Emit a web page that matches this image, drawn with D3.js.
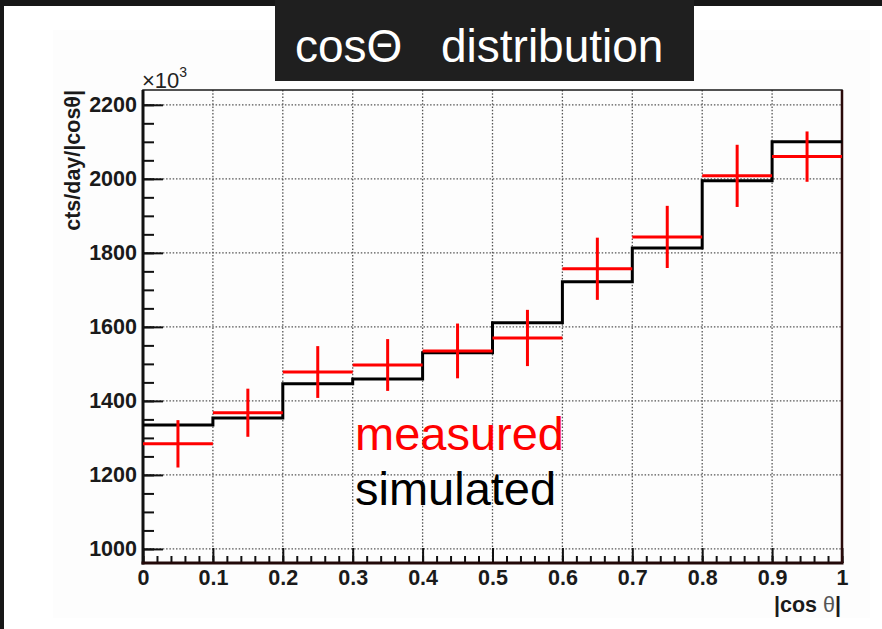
<!DOCTYPE html>
<html>
<head>
<meta charset="utf-8">
<script src="https://cdn.jsdelivr.net/npm/d3@7"></script>
<style>
  body { margin: 0; background: #181818; }
  svg { display: block; }
</style>
</head>
<body>
<div id="chart"></div>
<script>
// bins of |cos theta| (lower and upper edges)
var binLow  = [0, 0.1, 0.2, 0.3, 0.4, 0.5, 0.6, 0.7, 0.8, 0.9];
var binHigh = [0.1, 0.2, 0.3, 0.4, 0.5, 0.6, 0.7, 0.8, 0.9, 1.0];

// counts per day per |cos theta| (x10^3)
var simulated   = [1335, 1354, 1446, 1459, 1530, 1611, 1722, 1813, 1995, 2100];
var measured    = [1284, 1368, 1478, 1497, 1535, 1570, 1757, 1843, 2008, 2060];
var measuredErr = [64, 65, 70, 70, 74, 76, 84, 84, 84, 68];

// axis ticks
var xTicks = [0, 0.1, 0.2, 0.3, 0.4, 0.5, 0.6, 0.7, 0.8, 0.9, 1];
var xTickLabels = ["0", "0.1", "0.2", "0.3", "0.4", "0.5", "0.6", "0.7", "0.8", "0.9", "1"];
var yTicks = [1000, 1200, 1400, 1600, 1800, 2000, 2200];

var svgWidth = 882;
var svgHeight = 629;

var margin = { top: 90, right: 40, bottom: 66, left: 143 };
var width = 842 - margin.left;
var height = 563 - margin.top;

var svg = d3.select("#chart")
  .append("svg")
  .attr("width", svgWidth)
  .attr("height", svgHeight);

// dark slide background + white panel
svg.append("rect")
  .attr("width", svgWidth)
  .attr("height", svgHeight)
  .attr("fill", "#171717");

svg.append("rect")
  .attr("x", 4)
  .attr("y", 6)
  .attr("width", svgWidth - 4)
  .attr("height", svgHeight - 6)
  .attr("fill", "#ffffff");

svg.append("rect")
  .attr("x", 53)
  .attr("y", 30)
  .attr("width", 817)
  .attr("height", 588)
  .attr("fill", "#fdfdfd");

// title box
svg.append("rect")
  .attr("x", 275)
  .attr("y", 0)
  .attr("width", 419)
  .attr("height", 81)
  .attr("fill", "#1f1f1f");

svg.append("text")
  .attr("x", 295)
  .attr("y", 62)
  .attr("fill", "#ffffff")
  .style("font-family", "'Liberation Sans', Arial, sans-serif")
  .style("font-size", "46px")
  .text("cos\u0398");

svg.append("text")
  .attr("x", 441)
  .attr("y", 62)
  .attr("fill", "#ffffff")
  .style("font-family", "'Liberation Sans', Arial, sans-serif")
  .style("font-size", "46px")
  .text("distribution");

var chartGroup = svg.append("g")
  .attr("transform", `translate(${margin.left}, ${margin.top})`);

var xScale = d3.scaleLinear().domain([0, 1]).range([0, width]);
var yScale = d3.scaleLinear().domain([962, 2240]).range([height, 0]);

// dotted grid
chartGroup.append("g")
  .selectAll("line")
  .data(yTicks)
  .enter()
  .append("line")
  .attr("x1", 0)
  .attr("x2", width)
  .attr("y1", d => yScale(d))
  .attr("y2", d => yScale(d))
  .attr("stroke", "#555")
  .attr("stroke-width", 1.3)
  .attr("stroke-dasharray", "1.5,1.8");

chartGroup.append("g")
  .selectAll("line")
  .data(xTicks.slice(1, -1))
  .enter()
  .append("line")
  .attr("x1", d => xScale(d))
  .attr("x2", d => xScale(d))
  .attr("y1", 0)
  .attr("y2", height)
  .attr("stroke", "#555")
  .attr("stroke-width", 1.3)
  .attr("stroke-dasharray", "1.5,1.8");

// axes (ticks pointing into the frame, ROOT style)
var axisFont = "'Liberation Sans', Arial, sans-serif";

var yMinor = chartGroup.append("g")
  .call(d3.axisLeft(yScale).tickValues(d3.range(1000, 2201, 50)).tickSize(-11).tickFormat(""));
var yMajor = chartGroup.append("g")
  .call(d3.axisLeft(yScale).tickValues(yTicks).tickSize(-20).tickPadding(6).tickFormat(d3.format("d")));

var xMinor = chartGroup.append("g")
  .attr("transform", `translate(0, ${height})`)
  .call(d3.axisBottom(xScale).tickValues(d3.range(0, 1.001, 0.02)).tickSize(-7).tickFormat(""));
var xMajor = chartGroup.append("g")
  .attr("transform", `translate(0, ${height})`)
  .call(d3.axisBottom(xScale).tickValues(xTicks).tickSize(-15).tickPadding(7)
    .tickFormat((d, i) => xTickLabels[i]));

[yMinor, yMajor, xMinor, xMajor].forEach(function(ax) {
  ax.select(".domain").remove();
  ax.selectAll("line").attr("stroke", "#111").attr("stroke-width", 2);
  ax.selectAll("text")
    .style("font-family", axisFont)
    .style("font-weight", "bold")
    .style("font-size", "21.5px")
    .attr("fill", "#1a1a1a");
});

// frame
chartGroup.append("rect")
  .attr("x", 0)
  .attr("y", 0)
  .attr("width", width)
  .attr("height", height)
  .attr("fill", "none")
  .attr("stroke", "#1a1a1a")
  .attr("stroke-width", 1.5);

chartGroup.append("line")
  .attr("x1", 0).attr("x2", 0)
  .attr("y1", 0).attr("y2", height + 1.5)
  .attr("stroke", "#111").attr("stroke-width", 3);

chartGroup.append("line")
  .attr("x1", -1.5).attr("x2", width + 1.5)
  .attr("y1", height).attr("y2", height)
  .attr("stroke", "#220808").attr("stroke-width", 3);

chartGroup.append("line")
  .attr("x1", width).attr("x2", width)
  .attr("y1", 0).attr("y2", height)
  .attr("stroke", "#2a0a0a").attr("stroke-width", 2.5);

// simulated histogram (black step line)
var stepPoints = binLow.map((d, i) => [d, simulated[i]]);
stepPoints.push([binHigh[binHigh.length - 1], simulated[simulated.length - 1]]);

var stepLine = d3.line()
  .x(d => xScale(d[0]))
  .y(d => yScale(d[1]))
  .curve(d3.curveStepAfter);

chartGroup.append("path")
  .datum(stepPoints)
  .attr("d", stepLine)
  .attr("fill", "none")
  .attr("stroke", "#000")
  .attr("stroke-width", 3);

// measured points with error bars (red crosses)
var measuredGroup = chartGroup.append("g");

measuredGroup.selectAll(".hbar")
  .data(measured)
  .enter()
  .append("line")
  .attr("class", "hbar")
  .attr("x1", (d, i) => xScale(binLow[i]))
  .attr("x2", (d, i) => xScale(binHigh[i]))
  .attr("y1", d => yScale(d))
  .attr("y2", d => yScale(d))
  .attr("stroke", "#ff0000")
  .attr("stroke-width", 3);

measuredGroup.selectAll(".vbar")
  .data(measured)
  .enter()
  .append("line")
  .attr("class", "vbar")
  .attr("x1", (d, i) => xScale((binLow[i] + binHigh[i]) / 2))
  .attr("x2", (d, i) => xScale((binLow[i] + binHigh[i]) / 2))
  .attr("y1", (d, i) => yScale(d + measuredErr[i]))
  .attr("y2", (d, i) => yScale(d - measuredErr[i]))
  .attr("stroke", "#ff0000")
  .attr("stroke-width", 3);

// legend text
chartGroup.append("text")
  .attr("x", 355 - margin.left)
  .attr("y", 450 - margin.top)
  .attr("fill", "#ff0000")
  .style("font-family", axisFont)
  .style("font-size", "47px")
  .text("measured");

chartGroup.append("text")
  .attr("x", 355 - margin.left)
  .attr("y", 505 - margin.top)
  .attr("fill", "#000")
  .style("font-family", axisFont)
  .style("font-size", "47px")
  .text("simulated");

// axis titles
svg.append("text")
  .attr("transform", "translate(80, 90) rotate(-90)")
  .attr("text-anchor", "end")
  .attr("fill", "#1a1a1a")
  .style("font-family", axisFont)
  .style("font-weight", "bold")
  .style("font-size", "21.5px")
  .text("cts/day/|cos\u03b8|");

var xTitle = svg.append("text")
  .attr("x", 841)
  .attr("y", 612)
  .attr("text-anchor", "end")
  .attr("fill", "#1a1a1a")
  .style("font-family", axisFont)
  .style("font-weight", "bold")
  .style("font-size", "21.5px");
xTitle.append("tspan").text("|cos ");
xTitle.append("tspan").attr("fill", "#555").style("font-weight", "normal").text("\u03b8");
xTitle.append("tspan").text("|");

// x10^3 multiplier
var mult = svg.append("text")
  .attr("x", 142)
  .attr("y", 88)
  .attr("fill", "#222")
  .style("font-family", axisFont)
  .style("font-size", "22px");
mult.append("tspan").text("\u00d710");
mult.append("tspan").attr("dy", -11).style("font-size", "14px").text("3");
</script>
</body>
</html>
